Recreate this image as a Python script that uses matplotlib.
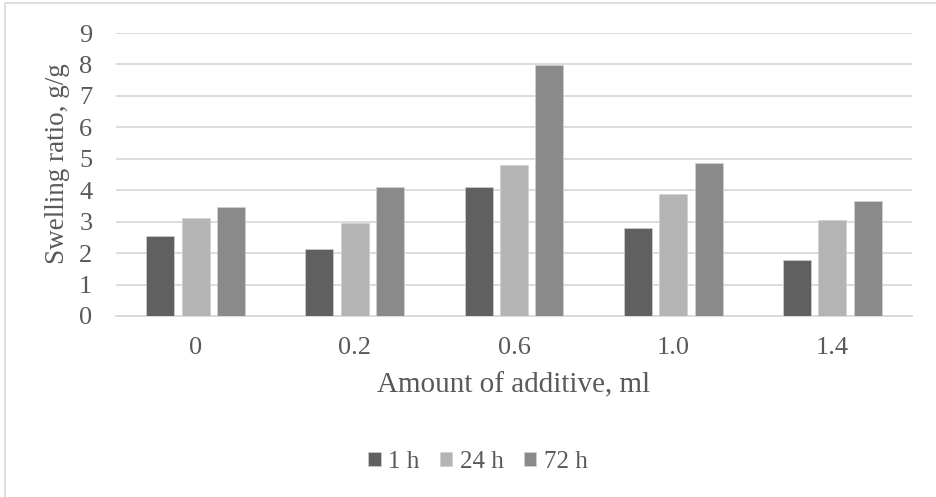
import matplotlib.pyplot as plt
import numpy as np
from matplotlib.patches import Rectangle

plt.rcParams['font.family'] = ['Liberation Serif', 'DejaVu Serif']

categories = ['0', '0.2', '0.6', '1.0', '1.4']
h1 = [2.55, 2.12, 4.09, 2.79, 1.78]
h24 = [3.12, 2.97, 4.80, 3.89, 3.05]
h72 = [3.48, 4.09, 7.97, 4.87, 3.66]
series_labels = ['1 h', '24 h', '72 h']
colors = ['#606060', '#b4b4b4', '#8a8a8a']
text_color = '#595959'

fig = plt.figure(figsize=(9.37, 4.97), dpi=100)
ax = fig.add_axes([0.1238, 0.3642, 0.8495, 0.5694])

x = np.arange(len(categories))
w = 0.176
step = 0.222
for i, (vals, lab, c) in enumerate(zip([h1, h24, h72], series_labels, colors)):
    ax.bar(x + (i - 1) * step, vals, width=w, color=c, label=lab, zorder=3,
           edgecolor='#d0d0d0', linewidth=0.5)

ax.set_xlim(-0.5, 4.5)
ax.set_ylim(0, 9)
ax.set_yticks(range(0, 10))
ax.set_xticks(x)
ax.set_xticklabels(categories)
ax.yaxis.grid(True, color='#d9d9d9', linewidth=1.3, zorder=0)
ax.tick_params(axis='both', length=0, labelsize=19, colors=text_color)
ax.tick_params(axis='x', pad=15)
ax.tick_params(axis='y', pad=17)
for s in ['top', 'right', 'left']:
    ax.spines[s].set_visible(False)
ax.spines['bottom'].set_color('#d9d9d9')
ax.spines['bottom'].set_linewidth(1.3)

ax.set_ylabel('Swelling ratio, g/g', fontsize=19.5, color=text_color, va='center')
ax.yaxis.set_label_coords(-0.073, 0.54)
ax.set_xlabel('Amount of additive, ml', fontsize=21, color=text_color, va='center')
ax.xaxis.set_label_coords(0.5, -0.244)

leg = fig.legend(loc='center', bbox_to_anchor=(0.51, 0.07), ncol=3, frameon=False,
                 fontsize=18, handlelength=0.5, handleheight=0.5, handletextpad=0.3,
                 columnspacing=0.8, labelcolor=text_color)

fig.patches.append(Rectangle((5 / 937, -0.01), 1.1, (494 / 497) + 0.01,
                             transform=fig.transFigure, fill=False,
                             edgecolor='#d9d9d9', linewidth=1.2))

fig.savefig('out.png', dpi=100)
